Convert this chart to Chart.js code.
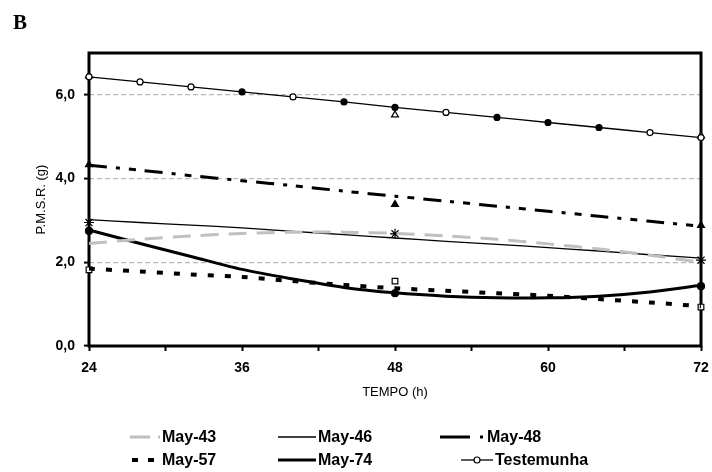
<!doctype html>
<html>

<head>
  <script src="https://cdn.jsdelivr.net/npm/chart.js@4/dist/chart.umd.min.js"></script>
  <style>
    body { margin: 0; background: #fff; }
    #wrap { position: relative; width: 712px; height: 472px; }
  </style>
</head>

<body>
  <div id="wrap">
    <canvas id="canvas" width="712" height="472"></canvas>
  </div>
  <script>
    // hours where the fitted curves are sampled, and where samples were taken
    const horas = [24, 28, 32, 36, 40, 44, 48, 52, 56, 60, 64, 68, 72];
    const horasObs = [24, 48, 72];

    // fitted curves, P.M.S.R. (g)
    const may43 = [2.45, 2.55, 2.63, 2.69, 2.72, 2.72, 2.69, 2.63, 2.55, 2.44, 2.32, 2.17, 2.00];
    const may46 = [3.02, 2.95, 2.89, 2.82, 2.74, 2.66, 2.58, 2.50, 2.43, 2.35, 2.27, 2.18, 2.10];
    const may48 = [4.32, 4.20, 4.07, 3.95, 3.83, 3.70, 3.58, 3.46, 3.34, 3.22, 3.10, 2.98, 2.86];
    const may57 = [1.85, 1.78, 1.71, 1.65, 1.55, 1.46, 1.38, 1.32, 1.26, 1.20, 1.12, 1.04, 0.95];
    const may74 = [2.77, 2.45, 2.14, 1.83, 1.60, 1.40, 1.27, 1.19, 1.15, 1.15, 1.19, 1.29, 1.45];
    const testemunha = [6.43, 6.31, 6.19, 6.07, 5.95, 5.83, 5.70, 5.58, 5.46, 5.34, 5.22, 5.10, 4.98];
    // which Testemunha markers are drawn solid
    const testemunhaCheio = [0, 0, 0, 1, 0, 1, 1, 0, 1, 1, 1, 0, 0];

    // sampled means
    const obsTriAberto = [6.45, 5.52, 5.02];
    const obsTriCheio = [4.33, 3.38, 2.88];
    const obsEstrela = [2.95, 2.68, 2.05];
    const obsQuadrado = [1.82, 1.55, 0.93];
    const obsCirculo = [2.75, 1.26, 1.43];

    const yTicks = [0, 2, 4, 6];
    const xTickLabels = [24, 36, 48, 60, 72];

    const pts = (xs, ys) => xs.map((x, i) => ({x: x, y: ys[i]}));
    const virgula = (v) => v.toFixed(1).replace('.', ',');

    const curva = (label, data, color, width, dash, extra) => Object.assign({
      label: label,
      data: pts(horas, data),
      borderColor: color,
      backgroundColor: color,
      borderWidth: width,
      borderDash: dash,
      borderCapStyle: 'butt',
      pointRadius: 0,
      tension: 0.3,
      fill: false
    }, extra || {});

    const marcas = (data, style, fill, r) => ({
      label: '',
      data: pts(horasObs, data),
      showLine: false,
      pointStyle: style,
      pointRadius: r,
      pointBorderColor: '#000',
      pointBackgroundColor: fill,
      pointBorderWidth: 1.2,
      legendHidden: true
    });

    // frame round the plot area
    const moldura = {
      id: 'moldura',
      beforeDatasetsDraw(chart) {
        const {ctx, chartArea: a} = chart;
        ctx.save();
        ctx.strokeStyle = '#000';
        ctx.lineWidth = 3;
        ctx.strokeRect(a.left, a.top, a.right - a.left, a.bottom - a.top);
        ctx.restore();
      }
    };

    // legend in three columns below the axis title, plus the panel letter
    const legenda = {
      id: 'legenda',
      afterDraw(chart) {
        const ctx = chart.ctx;
        const cols = [130, 278, 440];
        const rows = [437, 460];
        const items = chart.data.datasets.filter((d) => !d.legendHidden);
        ctx.save();
        items.forEach((d, i) => {
          const x = cols[i % 3] + (d.legendShift || 0);
          const y = rows[Math.floor(i / 3)];
          const len = d.legendLen || 38;
          ctx.strokeStyle = d.borderColor;
          ctx.lineWidth = d.borderWidth;
          ctx.lineCap = 'butt';
          ctx.setLineDash(d.legendDash || []);
          ctx.beginPath();
          ctx.moveTo(x, y);
          ctx.lineTo(x + len, y);
          ctx.stroke();
          ctx.setLineDash([]);
          if (d.pointRadius > 0) {
            ctx.fillStyle = '#fff';
            ctx.lineWidth = 1.2;
            ctx.beginPath();
            ctx.arc(x + len / 2, y, 3, 0, Math.PI * 2);
            ctx.fill();
            ctx.stroke();
          }
          ctx.fillStyle = '#000';
          ctx.font = 'bold 16px "Liberation Sans", Arial, sans-serif';
          ctx.textBaseline = 'middle';
          ctx.fillText(d.label, x + len + (d.legendGap || 2), y + 1);
        });
        ctx.font = 'bold 21px "Liberation Serif", "Times New Roman", serif';
        ctx.textBaseline = 'alphabetic';
        ctx.fillText('B', 13, 29);
        ctx.restore();
      }
    };

    const tickFont = {family: '"Liberation Sans Narrow", "Liberation Sans", Arial, sans-serif', size: 14, weight: 'bold'};

    new Chart(document.getElementById('canvas').getContext('2d'), {
      type: 'line',
      data: {
        datasets: [
          curva('May-43', may43, '#c0c0c0', 3, [18, 10], {legendDash: [20, 8, 2, 20], legendLen: 30}),
          curva('May-46', may46, '#000', 1.3, []),
          curva('May-48', may48, '#000', 3, [18, 9, 4, 9, 7, 9], {legendDash: [30, 10, 3, 20], legendLen: 43, legendGap: 4}),
          curva('May-57', may57, '#000', 4, [6, 11], {legendDash: [6, 10], legendLen: 24, legendShift: 2, legendGap: 6}),
          curva('May-74', may74, '#000', 3, []),
          curva('Testemunha', testemunha, '#000', 1.3, [], {
            pointRadius: 3,
            pointStyle: 'circle',
            pointBorderColor: '#000',
            pointBackgroundColor: testemunhaCheio.map((c) => c ? '#000' : '#fff'),
            pointBorderWidth: 1.2,
            legendLen: 32,
            legendShift: 21
          }),
          marcas(obsTriAberto, 'triangle', '#fff', 4),
          marcas(obsTriCheio, 'triangle', '#000', 4),
          marcas(obsEstrela, 'star', '#000', 5),
          marcas(obsQuadrado, 'rect', '#fff', 4),
          marcas(obsCirculo, 'circle', '#000', 3.5)
        ]
      },
      options: {
        responsive: false,
        animation: false,
        events: [],
        datasets: {line: {clip: false}},
        layout: {padding: {left: 0, right: 11, top: 53, bottom: 72}},
        plugins: {
          legend: {display: false},
          tooltip: {enabled: false}
        },
        scales: {
          x: {
            type: 'linear',
            min: 24,
            max: 72,
            afterFit: (s) => {
              s.height = 54;
              s.paddingLeft = 0;
              s.paddingRight = 0;
            },
            afterBuildTicks: (s) => {
              s.ticks = [];
              for (let h = 24; h <= 72; h += 6) s.ticks.push({value: h});
            },
            ticks: {
              autoSkip: false,
              maxRotation: 0,
              padding: 9,
              color: '#000',
              font: tickFont,
              callback: (v) => xTickLabels.includes(v) ? String(v) : ''
            },
            grid: {
              drawOnChartArea: false,
              tickLength: 5,
              tickWidth: 2,
              tickColor: '#000'
            },
            border: {display: false},
            title: {
              display: true,
              text: 'TEMPO (h)',
              color: '#000',
              padding: {top: 0, bottom: 0},
              font: {family: '"Liberation Sans", Arial, sans-serif', size: 13}
            }
          },
          y: {
            min: 0,
            max: 7,
            afterFit: (s) => {
              s.width = 89;
              s.paddingTop = 0;
              s.paddingBottom = 0;
            },
            afterBuildTicks: (s) => {
              s.ticks = yTicks.map((v) => ({value: v}));
            },
            ticks: {
              padding: 9,
              color: '#000',
              font: tickFont,
              callback: (v) => virgula(v)
            },
            grid: {
              color: (c) => c.tick && c.tick.value > 0 ? '#b8b8b8' : 'rgba(0,0,0,0)',
              lineWidth: 1.2,
              tickLength: 5,
              tickWidth: 2,
              tickColor: '#000'
            },
            border: {display: false, dash: [5, 3]},
            title: {
              display: true,
              text: 'P.M.S.R. (g)',
              color: '#000',
              padding: {top: 34, bottom: 0},
              font: {family: '"Liberation Sans", Arial, sans-serif', size: 13}
            }
          }
        }
      },
      plugins: [moldura, legenda]
    });
  </script>
</body>

</html>
